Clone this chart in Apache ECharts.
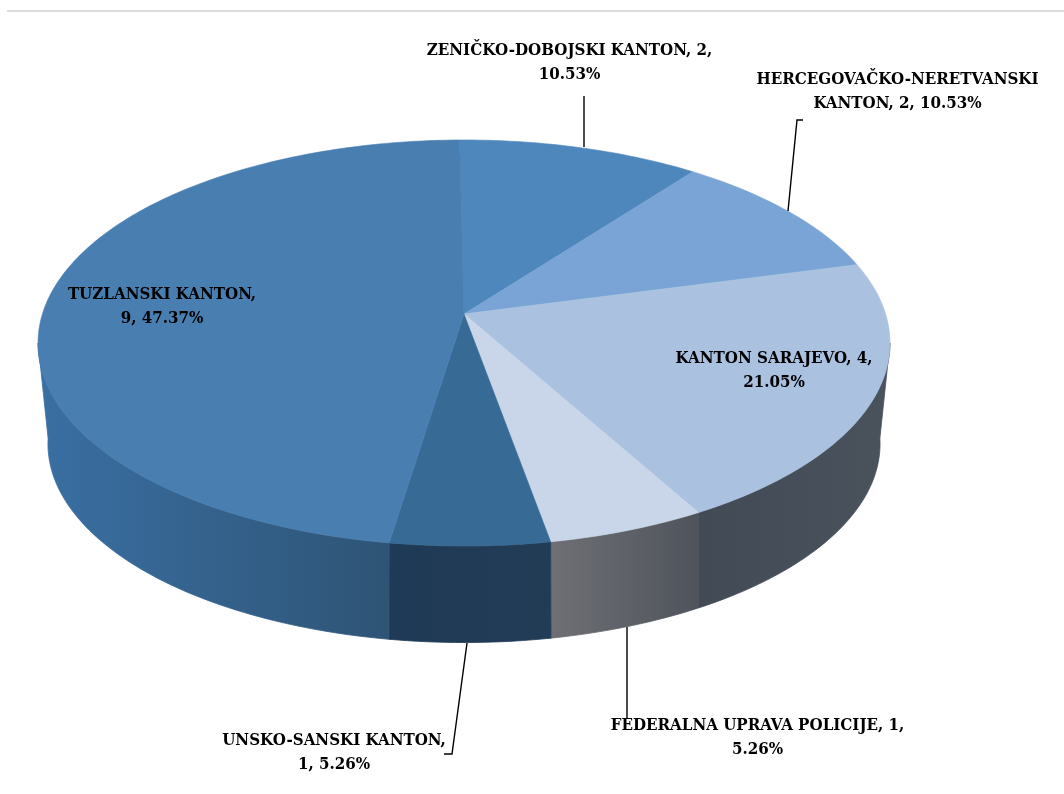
<!DOCTYPE html>
<html>
<head>
<meta charset="utf-8">
<style>html,body{margin:0;padding:0;background:#fff}#chart{width:1064px;height:794px}</style>
<script src="https://cdn.jsdelivr.net/npm/echarts@6/dist/echarts.min.js"></script>
</head>
<body>
<div id="chart"></div>
<script>
// ---- data ----
var categories = ['ZENIČKO-DOBOJSKI KANTON', 'HERCEGOVAČKO-NERETVANSKI KANTON', 'KANTON SARAJEVO', 'FEDERALNA UPRAVA POLICIJE', 'UNSKO-SANSKI KANTON', 'TUZLANSKI KANTON'];
var values = [2, 2, 4, 1, 1, 9];
var labelTexts = [
  'ZENIČKO-DOBOJSKI KANTON, 2,\n10.53%',
  'HERCEGOVAČKO-NERETVANSKI\nKANTON, 2, 10.53%',
  'KANTON SARAJEVO, 4,\n21.05%',
  'FEDERALNA UPRAVA POLICIJE, 1,\n5.26%',
  'UNSKO-SANSKI KANTON,\n1, 5.26%',
  'TUZLANSKI KANTON,\n9, 47.37%'
];

// ---- styles ----
var topColors = ['#4d87bc', '#7aa4d5', '#aac1e0', '#c9d6ea', '#376a95', '#497eb0'];
var wallColors = [
  null, null,
  ['#424a56', '#4a525c'],
  ['#6e7075', '#4f535b'],
  ['#1f3a56', '#233c56'],
  ['#3a6fa3', '#2e5475']
];
var FONT = '"DejaVu Serif Condensed", "DejaVu Serif"';

// ---- layout: projected disc (perspective squash of a unit circle) ----
var TOP = {cx: 464, cy: 314, r: 421.6, s: 198.9, k: 0.1429};
var BOTTOM = {cx: 464, cy: 410, r: 410, s: 193, k: 0.17};
var START = -0.7 * Math.PI / 180;
var VIS_TAN = Math.acos(-TOP.k); // rim angle where the side wall becomes visible
var labelLayout = [
  {x: 569.5, y: 62.5, line: [[584, 96], [584, 147]]},
  {x: 897.5, y: 91.5, line: [[803, 120], [797, 120], [788, 211]]},
  {x: 774, y: 370.5, line: null},
  {x: 757.5, y: 738, line: [[627, 627], [627, 719]]},
  {x: 334, y: 752.5, line: [[467, 643], [452, 754], [444, 754]]},
  {x: 162, y: 307, line: null}
];

var total = values.reduce(function (a, b) { return a + b; }, 0);
var bounds = [START];
values.forEach(function (v, i) { bounds.push(bounds[i] + v / total * Math.PI * 2); });

function project(d, t) {
  var x = Math.sin(t), v = -Math.cos(t), w = 1 - d.k * v;
  return [d.cx + d.r * x / w, d.cy + d.s * v / w];
}
function arc(d, a, b) {
  var n = Math.max(2, Math.ceil(Math.abs(b - a) / 0.02)), pts = [];
  for (var i = 0; i <= n; i++) pts.push(project(d, a + (b - a) * i / n));
  return pts;
}

function renderWall(params, api) {
  var i = params.dataIndex;
  var a = Math.max(bounds[i], VIS_TAN), b = Math.min(bounds[i + 1], 2 * Math.PI - VIS_TAN);
  if (b <= a || !wallColors[i]) return null;
  var pts = arc(TOP, a, b).concat(arc(BOTTOM, b, a));
  var grad = {type: 'linear', x: 0, y: 0, x2: 1, y2: 0, colorStops: [
    {offset: 0, color: wallColors[i][0]}, {offset: 1, color: wallColors[i][1]}
  ]};
  return {
    type: 'polygon',
    shape: {points: pts},
    style: {fill: grad, stroke: grad, lineWidth: 0.8}
  };
}
function renderTop(params, api) {
  var i = params.dataIndex;
  var pts = [[TOP.cx, TOP.cy]].concat(arc(TOP, bounds[i], bounds[i + 1]));
  return {
    type: 'polygon',
    shape: {points: pts},
    style: {fill: topColors[i], stroke: topColors[i], lineWidth: 0.6}
  };
}
function renderLabel(params, api) {
  var i = params.dataIndex, L = labelLayout[i], children = [];
  if (L.line) children.push({
    type: 'polyline', shape: {points: L.line},
    style: {fill: 'none', stroke: '#000', lineWidth: 1.4}
  });
  children.push({
    type: 'text',
    style: {
      x: L.x, y: L.y, text: labelTexts[i], fill: '#000',
      font: 'bold 16.8px ' + FONT, lineHeight: 24,
      align: 'center', verticalAlign: 'middle'
    }
  });
  return {type: 'group', children: children};
}

var seriesData = values.map(function (v, i) { return {name: categories[i], value: v}; });
var chart = echarts.init(document.getElementById('chart'), null, {renderer: 'canvas'});
chart.setOption({
  backgroundColor: '#fff',
  animation: false,
  graphic: [{type: 'rect', shape: {x: 7, y: 10, width: 1057, height: 2}, style: {fill: '#dcdcdc'}}],
  series: [
    {type: 'custom', coordinateSystem: 'none', renderItem: renderWall, data: seriesData, silent: true},
    {type: 'custom', coordinateSystem: 'none', renderItem: renderTop, data: seriesData, silent: true},
    {type: 'custom', coordinateSystem: 'none', renderItem: renderLabel, data: seriesData, silent: true}
  ]
});
</script>
</body>
</html>
